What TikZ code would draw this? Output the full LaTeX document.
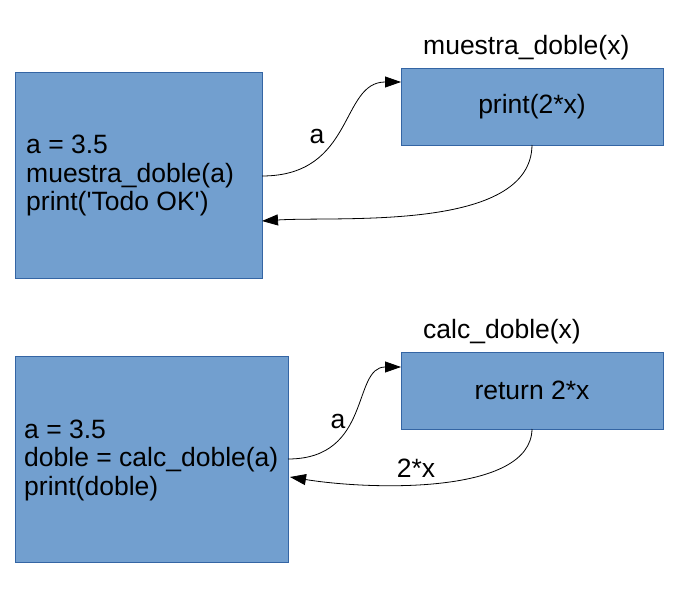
\documentclass[tikz,border=0pt]{standalone}
\usepackage{fontspec}
\setmainfont{Liberation Sans}
\usetikzlibrary{arrows.meta}
\definecolor{boxfill}{HTML}{729FCF}
\definecolor{boxdraw}{HTML}{3465A4}
\begin{document}
\begin{tikzpicture}[x=1pt,y=-1pt,
  box/.style={draw=boxdraw,fill=boxfill,line width=0.9pt,inner sep=0pt,outer sep=0pt,rectangle},
  code/.style={anchor=west,align=left,inner sep=0pt,font=\fontsize{26.5}{28.5}\selectfont},
  txt/.style={inner sep=0pt,font=\fontsize{26.5}{28.5}\selectfont},
  conn/.style={line width=0.8pt,-{Triangle[length=16pt,width=11pt]}}]
\useasboundingbox (0,0) rectangle (682,593);
% top
\node[box,minimum width=247pt,minimum height=206pt] (b1) at (138.5,175) {};
\node[box,minimum width=262pt,minimum height=77pt] (b2) at (532,106.5) {};
\node[code] (t1) at (26,176) {a = 3.5\\muestra\_doble(a)\\print(\textquotesingle Todo OK\textquotesingle)};
\node[txt] (t2) at (b2.center) {print(2*x)};
\node[txt,anchor=west] (h2) at (423,48) {muestra\_doble(x)};
\coordinate (o1) at (262,176);
\coordinate (i1) at (262,221);
\draw[conn] (o1) .. controls (355,176) and (340,82) .. (b2.west |- 0,82);
\draw[conn] (b2.south) .. controls (531,232) and (340,216) .. (i1);
\node[txt] (la1) at (317,137) {a};
% bottom
\node[box,minimum width=273pt,minimum height=206pt] (b3) at (151.5,459) {};
\node[box,minimum width=262pt,minimum height=77pt] (b4) at (532,390.5) {};
\node[code] (t3) at (24,460) {a = 3.5\\doble = calc\_doble(a)\\print(doble)};
\node[txt] (t4) at (b4.center) {return 2*x};
\node[txt,anchor=west] (h4) at (423,332) {calc\_doble(x)};
\coordinate (o3) at (288,459);
\coordinate (i3) at (290,477);
\draw[conn] (o3) .. controls (372,459) and (352,367) .. (b4.west |- 0,367);
\draw[conn] (b4.south) .. controls (531,495) and (370,490) .. (i3);
\node[txt] (la3) at (338,421) {a};
\node[txt] (lx3) at (416,468) {2*x};
\end{tikzpicture}
\end{document}
